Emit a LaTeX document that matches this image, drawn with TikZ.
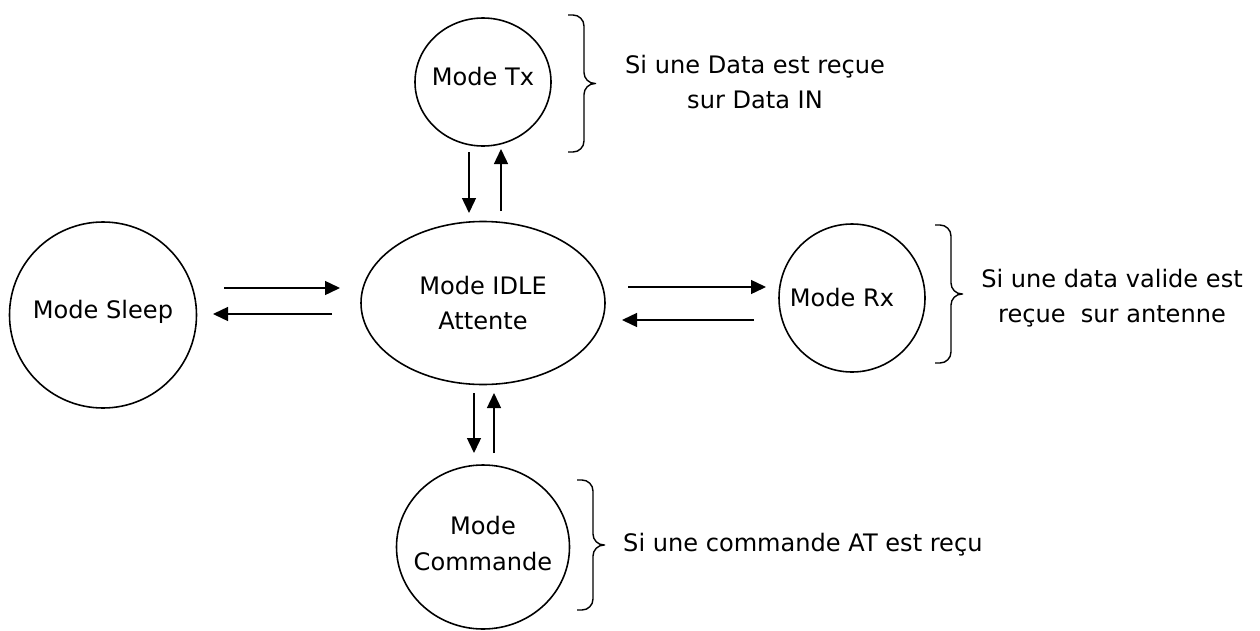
\documentclass[tikz,border=0pt]{standalone}
\usepackage{fontspec}
\setmainfont{DejaVu Sans}
\usetikzlibrary{shapes.geometric,arrows.meta}
\begin{document}
\begin{tikzpicture}[auto,
    font=\fontsize{13.7pt}{20pt}\selectfont,
    etat/.style ={ellipse, draw, line width=0.9pt, inner sep=0pt},
    fleche/.style ={line width=0.8pt, -{Triangle[length=0.3cm, width=0.28cm]}},
    accolade/.style ={rounded corners=0.22cm, line width=0.8pt},
    every label/.style ={align=center, inner sep=0pt}]
   \useasboundingbox (0,0) rectangle (25.2,12.6);
   \node[etat, minimum width=3.74cm, minimum height=3.72cm] (sleep) [label={[yshift=0.06cm]center:Mode Sleep}] at (2.06,6.30) {};
   \node[etat, minimum width=2.72cm, minimum height=2.56cm] (tx) [label={[yshift=0.1cm]center:Mode Tx}] at (9.66,10.96) {};
   \node[etat, minimum width=4.88cm, minimum height=3.26cm] (idle) [label=center:Mode IDLE\\Attente] at (9.66,6.54) {};
   \node[etat, minimum width=2.92cm, minimum height=2.96cm] (rx) [label={[xshift=-0.2cm]center:Mode Rx}] at (17.04,6.64) {};
   \node[etat, minimum width=3.46cm, minimum height=3.28cm] (cmd) [label={[yshift=0.07cm]center:Mode\\Commande}] at (9.66,1.66) {};
   \node[align=center] (noteTx) at (15.10,10.96) {Si une Data est reçue\\sur Data IN};
   \node[align=center] (noteRx) at (22.24,6.64) {Si une data valide est\\reçue~~sur antenne};
   \node[anchor=west] (noteCmd) at (12.34,1.70) {Si une commande AT est reçu};
   \coordinate (s1) at (4.48,6.84);  \coordinate (i1) at (6.80,6.84);
   \coordinate (i2) at (6.64,6.32);  \coordinate (s2) at (4.26,6.32);
   \coordinate (i3) at (12.56,6.86); \coordinate (r1) at (15.32,6.86);
   \coordinate (r2) at (15.08,6.20); \coordinate (i4) at (12.44,6.20);
   \coordinate (t1) at (9.38,9.56);  \coordinate (i5) at (9.38,8.34);
   \coordinate (i6) at (10.02,8.38); \coordinate (t2) at (10.02,9.62);
   \coordinate (i7) at (9.48,4.74);  \coordinate (c1) at (9.48,3.54);
   \coordinate (c2) at (9.88,3.54);  \coordinate (i8) at (9.88,4.74);
   \draw[fleche] (s1) to (i1);
   \draw[fleche] (i2) to (s2);
   \draw[fleche] (i3) to (r1);
   \draw[fleche] (r2) to (i4);
   \draw[fleche] (t1) to (i5);
   \draw[fleche] (i6) to (t2);
   \draw[fleche] (i7) to (c1);
   \draw[fleche] (c2) to (i8);
   \draw[accolade] (11.36,12.30) -- (11.68,12.30) |- (11.92,10.93)
                   (11.36,9.56) -- (11.68,9.56) |- (11.92,10.93);
   \draw[accolade] (18.70,8.10) -- (19.02,8.10) |- (19.26,6.72)
                   (18.70,5.34) -- (19.02,5.34) |- (19.26,6.72);
   \draw[accolade] (11.54,3.00) -- (11.86,3.00) |- (12.10,1.70)
                   (11.54,0.40) -- (11.86,0.40) |- (12.10,1.70);
\end{tikzpicture}
\end{document}
